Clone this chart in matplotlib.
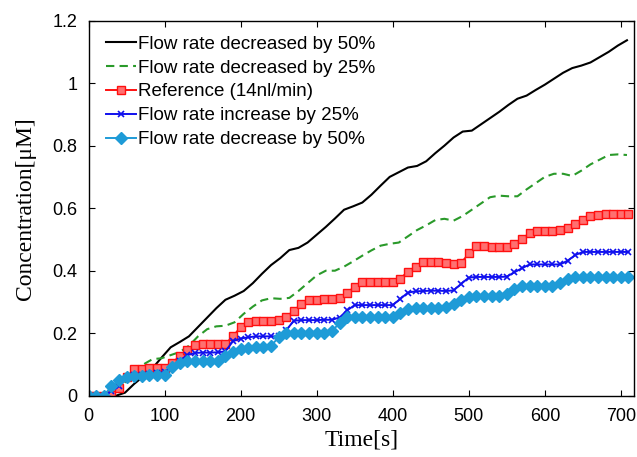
import matplotlib.pyplot as plt

# time samples [s] for the plain lines
time = [0, 12, 24, 36, 48, 60, 72, 84, 96, 108, 120, 132, 144, 156, 168, 180,
        192, 204, 216, 228, 240, 252, 264, 276, 288, 300, 312, 324, 336, 348,
        360, 372, 384, 396, 408, 420, 432, 444, 456, 468, 480, 492, 504, 516,
        528, 540, 552, 564, 576, 588, 600, 612, 624, 636, 648, 660, 672, 684,
        696, 708]

dec50 = [0, 0, 0, 0, 0.01, 0.038, 0.062, 0.088, 0.122, 0.155, 0.172, 0.19,
         0.22, 0.25, 0.28, 0.307, 0.32, 0.335, 0.36, 0.39, 0.418, 0.44, 0.466,
         0.473, 0.49, 0.515, 0.54, 0.567, 0.595, 0.606, 0.618, 0.643, 0.672,
         0.7, 0.715, 0.73, 0.735, 0.75, 0.776, 0.8, 0.826, 0.845, 0.848, 0.868,
         0.888, 0.908, 0.93, 0.95, 0.96, 0.978, 0.995, 1.014, 1.033, 1.048,
         1.056, 1.066, 1.083, 1.1, 1.12, 1.137]

dec25 = [0, 0, 0, 0.015, 0.043, 0.072, 0.1, 0.117, 0.12, 0.13, 0.14, 0.16,
         0.19, 0.213, 0.222, 0.224, 0.235, 0.262, 0.285, 0.305, 0.312, 0.31,
         0.313, 0.335, 0.36, 0.385, 0.4, 0.4, 0.413, 0.43, 0.448, 0.465, 0.48,
         0.486, 0.49, 0.51, 0.53, 0.545, 0.562, 0.566, 0.56, 0.575, 0.595,
         0.615, 0.635, 0.64, 0.638, 0.638, 0.66, 0.68, 0.7, 0.71, 0.71, 0.703,
         0.72, 0.74, 0.755, 0.77, 0.772, 0.77]

# time samples [s] for the marked lines
time_m = [0, 10, 20, 30, 40, 50, 60, 70, 80, 90, 100, 110, 120, 130, 140, 150,
          160, 170, 180, 190, 200, 210, 220, 230, 240, 250, 260, 270, 280, 290,
          300, 310, 320, 330, 340, 350, 360, 370, 380, 390, 400, 410, 420, 430,
          440, 450, 460, 470, 480, 490, 500, 510, 520, 530, 540, 550, 560, 570,
          580, 590, 600, 610, 620, 630, 640, 650, 660, 670, 680, 690, 700, 710]

reference = [0, 0, 0, 0.002, 0.025, 0.06, 0.084, 0.087, 0.088, 0.088, 0.088,
             0.105, 0.127, 0.146, 0.163, 0.164, 0.165, 0.165, 0.166, 0.19,
             0.22, 0.236, 0.238, 0.239, 0.24, 0.242, 0.252, 0.272, 0.294,
             0.306, 0.307, 0.308, 0.309, 0.312, 0.33, 0.348, 0.363, 0.365,
             0.365, 0.365, 0.365, 0.375, 0.397, 0.413, 0.428, 0.428, 0.427,
             0.425, 0.422, 0.425, 0.455, 0.478, 0.478, 0.477, 0.476, 0.476,
             0.485, 0.502, 0.52, 0.526, 0.527, 0.528, 0.53, 0.538, 0.55, 0.562,
             0.574, 0.578, 0.58, 0.58, 0.58, 0.58]

inc25 = [0, 0, 0, 0.015, 0.032, 0.058, 0.065, 0.068, 0.071, 0.073, 0.076,
         0.09, 0.112, 0.13, 0.137, 0.138, 0.138, 0.139, 0.142, 0.175, 0.183,
         0.187, 0.19, 0.19, 0.19, 0.19, 0.21, 0.24, 0.242, 0.242, 0.242, 0.243,
         0.243, 0.25, 0.273, 0.29, 0.29, 0.29, 0.29, 0.29, 0.29, 0.31, 0.33,
         0.334, 0.335, 0.336, 0.336, 0.335, 0.337, 0.358, 0.378, 0.38, 0.38,
         0.38, 0.38, 0.381, 0.395, 0.408, 0.42, 0.42, 0.42, 0.42, 0.42, 0.432,
         0.45, 0.46, 0.46, 0.46, 0.46, 0.46, 0.46, 0.46]

dec50b = [0, 0, 0, 0.03, 0.05, 0.06, 0.063, 0.064, 0.065, 0.066, 0.067, 0.092,
          0.105, 0.11, 0.11, 0.11, 0.11, 0.11, 0.127, 0.14, 0.149, 0.154,
          0.155, 0.156, 0.16, 0.187, 0.2, 0.2, 0.2, 0.2, 0.2, 0.2, 0.207,
          0.232, 0.253, 0.253, 0.253, 0.253, 0.253, 0.253, 0.253, 0.265,
          0.278, 0.28, 0.28, 0.28, 0.28, 0.283, 0.295, 0.307, 0.317, 0.318,
          0.318, 0.319, 0.32, 0.327, 0.34, 0.35, 0.35, 0.35, 0.35, 0.35, 0.362,
          0.372, 0.38, 0.38, 0.38, 0.38, 0.38, 0.38, 0.38, 0.38]

xticks = [0, 100, 200, 300, 400, 500, 600, 700]
yticks = [0, 0.2, 0.4, 0.6, 0.8, 1.0, 1.2]
ylabels = ['0', '0.2', '0.4', '0.6', '0.8', '1', '1.2']

plt.rcParams['font.family'] = ['Liberation Sans', 'DejaVu Sans']

fig = plt.figure(figsize=(6.37, 4.57), dpi=100)
ax = fig.add_axes([0.139, 0.134, 0.856, 0.821])

ax.plot(time, dec50, color='black', lw=1.5, label='Flow rate decreased by 50%')
ax.plot(time, dec25, color='#2a9a2a', lw=1.5, ls=(0, (4, 2.5)),
        label='Flow rate decreased by 25%')
ax.plot(time_m, reference, color='#ff1010', lw=1.4, marker='s', ms=5.5,
        mfc='#ff7070', mec='#ff1010', mew=1.0, label='Reference (14nl/min)')
ax.plot(time_m, inc25, color='#1010ee', lw=1.4, marker='x', ms=4, mew=1.2,
        label='Flow rate increase by 25%')
ax.plot(time_m, dec50b, color='#1e9bd7', lw=1.4, marker='D', ms=6,
        mec='#1e9bd7', label='Flow rate decrease by 50%')

ax.set_xlim(0, 717)
ax.set_ylim(0, 1.2)
ax.set_xticks(xticks)
ax.set_yticks(yticks)
ax.set_yticklabels(ylabels)
ax.tick_params(direction='in', top=True, right=True, labelsize=13, length=4)
ax.tick_params(axis='x', pad=9)
ax.tick_params(axis='y', pad=8)
for s in ax.spines.values():
    s.set_linewidth(1.0)

ax.set_xlabel('Time[s]', family='Liberation Serif', fontsize=17, labelpad=3)
ax.set_ylabel('Concentration[\u03bcM]', family='Liberation Serif', fontsize=17,
              labelpad=12)

ax.legend(loc='upper left', frameon=False, fontsize=13.5, handlelength=1.6,
          handletextpad=0.1, labelspacing=0.36, borderaxespad=0.0,
          bbox_to_anchor=(0.018, 0.98))

fig.savefig('out.png', dpi=100)
